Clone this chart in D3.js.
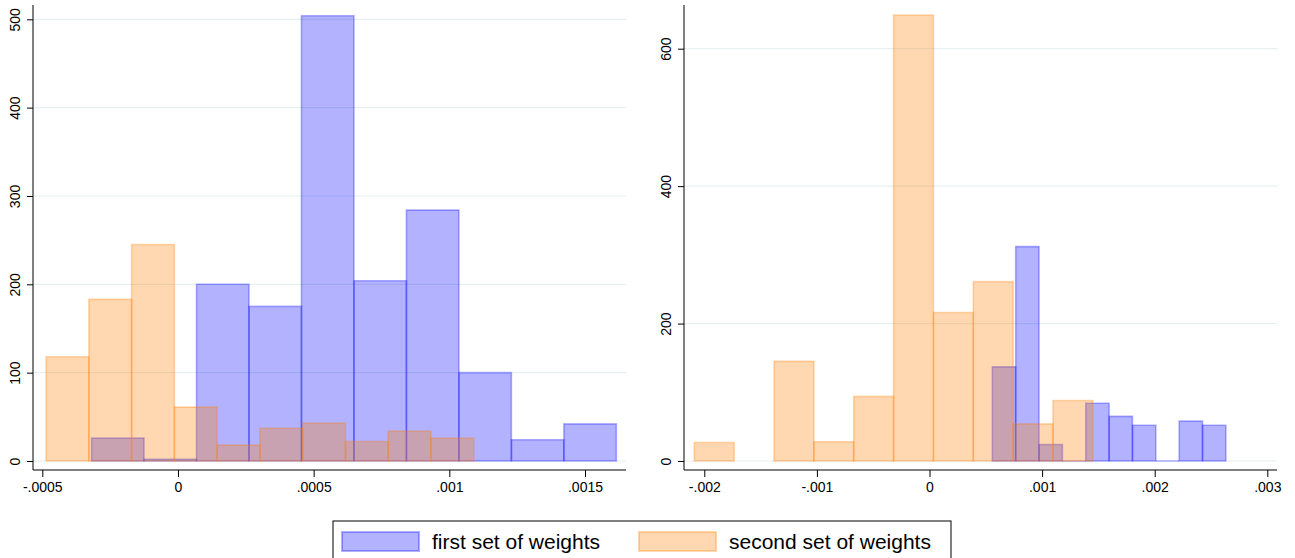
<!DOCTYPE html>
<html>
<head>
<meta charset="utf-8">
<script src="https://cdn.jsdelivr.net/npm/d3@7"></script>
<style>
  html, body { margin: 0; padding: 0; background: #fff; }
  svg { display: block; font-family: "Liberation Sans", Arial, Helvetica, sans-serif; }
</style>
</head>
<body>
<svg id="chart" width="1295" height="558"></svg>
<script>
// ---------- data ----------
const seriesNames = ["first set of weights", "second set of weights"];

// left panel
const leftXTicks = [-0.0005, 0, 0.0005, 0.001, 0.0015];
const leftXTickLabels = ["-.0005", "0", ".0005", ".001", ".0015"];
const leftYTicks = [0, 100, 200, 300, 400, 500];
const leftFirstStart = -0.0003185, leftFirstWidth = 0.0001934;
const leftFirstCounts = [26, 2, 200, 175, 504, 204, 284, 100, 24, 42];
const leftSecondStart = -0.000486, leftSecondWidth = 0.0001576;
const leftSecondCounts = [118, 183, 245, 61, 18, 37, 43, 22, 34, 26];

// right panel
const rightXTicks = [-0.002, -0.001, 0, 0.001, 0.002, 0.003];
const rightXTickLabels = ["-.002", "-.001", "0", ".001", ".002", ".003"];
const rightYTicks = [0, 200, 400, 600];
const rightFirstStart = 0.000558, rightFirstWidth = 0.0002074;
const rightFirstCounts = [137, 312, 24, 0, 84, 65, 52, 0, 58, 52];
const rightSecondStart = -0.002089, rightSecondWidth = 0.000354;
const rightSecondCounts = [27, 0, 145, 28, 94, 649, 216, 261, 54, 88];

// ---------- styles ----------
const firstFill = "rgba(0,0,255,0.3)";
const secondFill = "rgba(255,127,0,0.3)";
const gridColor = "#e7eff1";

const svg = d3.select("#chart");

function panel(cfg) {
  const g = svg.append("g");
  const x = d3.scaleLinear().domain([cfg.xTicks[0], cfg.xTicks[cfg.xTicks.length - 1]]).range(cfg.xRange);
  const y = d3.scaleLinear().domain([0, cfg.yTicks[cfg.yTicks.length - 1]]).range(cfg.yRange);
  const axisY = 470, top = 5;

  // gridlines
  g.append("g").selectAll("line").data(cfg.yTicks).join("line")
    .attr("x1", cfg.left).attr("x2", cfg.right)
    .attr("y1", d => y(d)).attr("y2", d => y(d))
    .attr("stroke", gridColor).attr("stroke-width", 1.2);

  function bins(start, width, counts) {
    return counts.map((c, i) => ({ x0: start + i * width, x1: start + (i + 1) * width, c }));
  }
  function drawBars(data, fill, showEmpty) {
    g.append("g").selectAll("path").data(data.filter(d => showEmpty || d.c > 0)).join("path")
      .attr("d", d => {
        const x0 = x(d.x0), x1 = x(d.x1), y0 = y(0), y1 = y(d.c);
        return `M${x0},${y0}V${y1}H${x1}V${y0}Z`;
      })
      .attr("fill", fill)
      .attr("stroke", fill)
      .attr("stroke-width", 1.6)
      .attr("stroke-linejoin", "miter");
  }
  drawBars(bins(cfg.firstStart, cfg.firstWidth, cfg.firstCounts), firstFill, true);
  drawBars(bins(cfg.secondStart, cfg.secondWidth, cfg.secondCounts), secondFill, false);

  // axes lines
  g.append("line").attr("x1", cfg.left).attr("x2", cfg.right).attr("y1", axisY).attr("y2", axisY)
    .attr("stroke", "#000").attr("stroke-width", 1);
  g.append("line").attr("x1", cfg.left).attr("x2", cfg.left).attr("y1", top).attr("y2", axisY)
    .attr("stroke", "#000").attr("stroke-width", 1);

  // x axis
  const xa = g.append("g").attr("transform", `translate(0,${axisY})`)
    .call(d3.axisBottom(x).tickValues(cfg.xTicks).tickSize(7).tickPadding(5)
      .tickFormat((d, i) => cfg.xLabels[i]));
  xa.select(".domain").remove();
  xa.selectAll("text").attr("font-size", 14).attr("fill", "#000").attr("font-family", null);
  xa.selectAll("line").attr("stroke", "#000");

  // y axis
  const ya = g.append("g").attr("transform", `translate(${cfg.left},0)`)
    .call(d3.axisLeft(y).tickValues(cfg.yTicks).tickSize(6));
  ya.select(".domain").remove();
  ya.selectAll("line").attr("stroke", "#000");
  ya.selectAll("text")
    .attr("font-size", 14).attr("fill", "#000").attr("font-family", null)
    .attr("x", 0).attr("y", -13).attr("dy", 0)
    .attr("transform", "rotate(-90)")
    .attr("text-anchor", "middle");
}

panel({
  xTicks: leftXTicks, xLabels: leftXTickLabels, yTicks: leftYTicks,
  xRange: [42.3, 585], yRange: [461, 19.3], left: 33, right: 626,
  firstStart: leftFirstStart, firstWidth: leftFirstWidth, firstCounts: leftFirstCounts,
  secondStart: leftSecondStart, secondWidth: leftSecondWidth, secondCounts: leftSecondCounts
});
panel({
  xTicks: rightXTicks, xLabels: rightXTickLabels, yTicks: rightYTicks,
  xRange: [704.3, 1267.3], yRange: [461, 48.7], left: 684, right: 1277,
  firstStart: rightFirstStart, firstWidth: rightFirstWidth, firstCounts: rightFirstCounts,
  secondStart: rightSecondStart, secondWidth: rightSecondWidth, secondCounts: rightSecondCounts
});

// ---------- legend ----------
const lg = svg.append("g");
lg.append("rect").attr("x", 333).attr("y", 521).attr("width", 618).attr("height", 60)
  .attr("fill", "#fff").attr("stroke", "#000").attr("stroke-width", 1);
const legendItems = [
  { name: seriesNames[0], fill: firstFill, sx: 342, tx: 432 },
  { name: seriesNames[1], fill: secondFill, sx: 639, tx: 729 }
];
legendItems.forEach(it => {
  lg.append("rect").attr("x", it.sx).attr("y", 532).attr("width", 77).attr("height", 19)
    .attr("fill", it.fill).attr("stroke", it.fill).attr("stroke-width", 2);
  lg.append("text").attr("x", it.tx).attr("y", 549).attr("font-size", 21).attr("fill", "#000")
    .text(it.name);
});
</script>
</body>
</html>
